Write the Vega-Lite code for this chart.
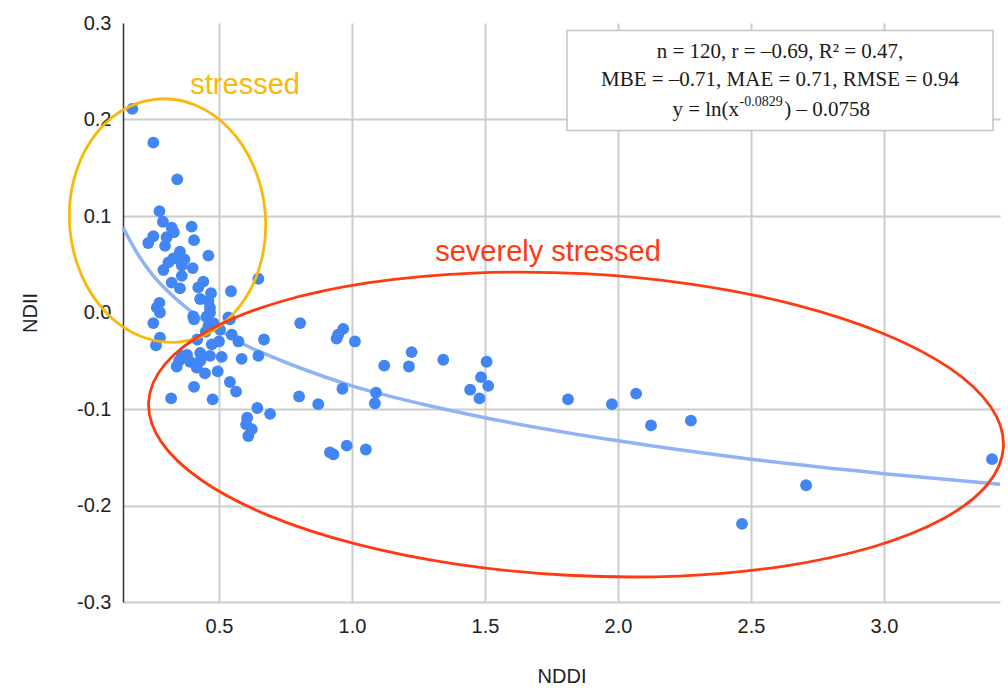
{
  "$schema": "https://vega.github.io/schema/vega-lite/v6.json",
  "width": 877,
  "height": 579,
  "autosize": "none",
  "padding": {"left": 123, "top": 23, "right": 8, "bottom": 93},
  "background": "white",
  "config": {"view": {"stroke": null}, "font": "Liberation Sans"},
  "datasets": {
    "points": [
      {"NDDI":0.174,"NDII":0.211},{"NDDI":0.253,"NDII":0.176},{"NDDI":0.343,"NDII":0.138},{"NDDI":0.276,"NDII":0.105},
      {"NDDI":0.289,"NDII":0.094},{"NDDI":0.322,"NDII":0.088},{"NDDI":0.397,"NDII":0.089},{"NDDI":0.253,"NDII":0.079},
      {"NDDI":0.234,"NDII":0.072},{"NDDI":0.303,"NDII":0.078},{"NDDI":0.297,"NDII":0.069},{"NDDI":0.406,"NDII":0.075},
      {"NDDI":0.353,"NDII":0.063},{"NDDI":0.328,"NDII":0.056},{"NDDI":0.460,"NDII":0.059},{"NDDI":0.360,"NDII":0.049},
      {"NDDI":0.291,"NDII":0.044},{"NDDI":0.401,"NDII":0.046},{"NDDI":0.360,"NDII":0.038},{"NDDI":0.322,"NDII":0.031},
      {"NDDI":0.353,"NDII":0.025},{"NDDI":0.441,"NDII":0.032},{"NDDI":0.422,"NDII":0.026},{"NDDI":0.648,"NDII":0.035},
      {"NDDI":0.545,"NDII":0.022},{"NDDI":0.276,"NDII":0.010},{"NDDI":0.266,"NDII":0.005},{"NDDI":0.429,"NDII":0.014},
      {"NDDI":0.460,"NDII":0.012},{"NDDI":0.466,"NDII":0.005},{"NDDI":0.278,"NDII":0.000},{"NDDI":0.403,"NDII":-0.004},
      {"NDDI":0.454,"NDII":-0.004},{"NDDI":0.535,"NDII":-0.005},{"NDDI":0.253,"NDII":-0.011},{"NDDI":0.406,"NDII":-0.007},
      {"NDDI":0.466,"NDII":0.000},{"NDDI":0.460,"NDII":-0.014},{"NDDI":0.479,"NDII":-0.011},{"NDDI":0.504,"NDII":-0.018},
      {"NDDI":0.541,"NDII":-0.007},{"NDDI":0.278,"NDII":-0.026},{"NDDI":0.263,"NDII":-0.034},{"NDDI":0.418,"NDII":-0.028},
      {"NDDI":0.473,"NDII":-0.033},{"NDDI":0.548,"NDII":-0.023},{"NDDI":0.573,"NDII":-0.030},{"NDDI":0.669,"NDII":-0.028},
      {"NDDI":0.360,"NDII":-0.045},{"NDDI":0.429,"NDII":-0.042},{"NDDI":0.466,"NDII":-0.045},{"NDDI":0.510,"NDII":-0.046},
      {"NDDI":0.585,"NDII":-0.048},{"NDDI":0.648,"NDII":-0.045},{"NDDI":0.391,"NDII":-0.051},{"NDDI":0.341,"NDII":-0.056},
      {"NDDI":0.416,"NDII":-0.057},{"NDDI":0.447,"NDII":-0.063},{"NDDI":0.495,"NDII":-0.061},{"NDDI":0.541,"NDII":-0.072},
      {"NDDI":0.564,"NDII":-0.082},{"NDDI":0.406,"NDII":-0.077},{"NDDI":0.320,"NDII":-0.089},{"NDDI":0.476,"NDII":-0.090},
      {"NDDI":0.644,"NDII":-0.099},{"NDDI":0.692,"NDII":-0.105},{"NDDI":0.606,"NDII":-0.109},{"NDDI":0.602,"NDII":-0.116},
      {"NDDI":0.623,"NDII":-0.121},{"NDDI":0.610,"NDII":-0.128},{"NDDI":0.805,"NDII":-0.011},{"NDDI":0.967,"NDII":-0.017},
      {"NDDI":0.948,"NDII":-0.023},{"NDDI":0.942,"NDII":-0.027},{"NDDI":1.011,"NDII":-0.030},{"NDDI":1.224,"NDII":-0.041},
      {"NDDI":1.121,"NDII":-0.055},{"NDDI":1.214,"NDII":-0.056},{"NDDI":0.964,"NDII":-0.079},{"NDDI":0.801,"NDII":-0.087},
      {"NDDI":0.873,"NDII":-0.095},{"NDDI":1.090,"NDII":-0.083},{"NDDI":1.086,"NDII":-0.094},{"NDDI":0.980,"NDII":-0.138},
      {"NDDI":0.917,"NDII":-0.145},{"NDDI":0.930,"NDII":-0.147},{"NDDI":1.052,"NDII":-0.142},{"NDDI":1.343,"NDII":-0.049},
      {"NDDI":1.506,"NDII":-0.051},{"NDDI":1.485,"NDII":-0.067},{"NDDI":1.444,"NDII":-0.080},{"NDDI":1.512,"NDII":-0.076},
      {"NDDI":1.479,"NDII":-0.089},{"NDDI":1.812,"NDII":-0.090},{"NDDI":1.977,"NDII":-0.095},{"NDDI":2.068,"NDII":-0.084},
      {"NDDI":2.124,"NDII":-0.117},{"NDDI":2.274,"NDII":-0.112},{"NDDI":2.466,"NDII":-0.219},{"NDDI":2.707,"NDII":-0.179},
      {"NDDI":3.406,"NDII":-0.152},
      {"NDDI":0.330,"NDII":0.083},{"NDDI":0.370,"NDII":0.055},{"NDDI":0.310,"NDII":0.052},{"NDDI":0.430,"NDII":-0.050},
      {"NDDI":0.380,"NDII":-0.044},{"NDDI":0.500,"NDII":-0.030},{"NDDI":0.450,"NDII":-0.020},{"NDDI":0.470,"NDII":0.020},
      {"NDDI":0.350,"NDII":-0.050}
    ],
    "fit": [
      {"NDDI":0.139,"NDII":0.088},{"NDDI":0.2,"NDII":0.058},{"NDDI":0.25,"NDII":0.039},{"NDDI":0.3,"NDII":0.024},
      {"NDDI":0.4,"NDII":0.000},{"NDDI":0.5,"NDII":-0.018},{"NDDI":0.6,"NDII":-0.034},{"NDDI":0.7,"NDII":-0.046},
      {"NDDI":0.8,"NDII":-0.057},{"NDDI":1.0,"NDII":-0.076},{"NDDI":1.25,"NDII":-0.094},{"NDDI":1.5,"NDII":-0.109},
      {"NDDI":2.0,"NDII":-0.133},{"NDDI":2.5,"NDII":-0.152},{"NDDI":3.0,"NDII":-0.167},{"NDDI":3.436,"NDII":-0.178}
    ],
    "stressed": [
      {"i":0,"NDDI":0.6733,"NDII":0.1042},{"i":1,"NDDI":0.6607,"NDII":0.0553},{"i":2,"NDDI":0.5941,"NDII":0.0126},
      {"i":3,"NDDI":0.4838,"NDII":-0.0176},{"i":4,"NDDI":0.3464,"NDII":-0.0306},{"i":5,"NDDI":0.2029,"NDII":-0.0244},
      {"i":6,"NDDI":0.0752,"NDII":0.0000},{"i":7,"NDDI":-0.0173,"NDII":0.0390},{"i":8,"NDDI":-0.0605,"NDII":0.0865},
      {"i":9,"NDDI":-0.0479,"NDII":0.1353},{"i":10,"NDDI":0.0187,"NDII":0.1781},{"i":11,"NDDI":0.129,"NDII":0.2083},
      {"i":12,"NDDI":0.2664,"NDII":0.2212},{"i":13,"NDDI":0.4098,"NDII":0.2150},{"i":14,"NDDI":0.5376,"NDII":0.1906},
      {"i":15,"NDDI":0.6301,"NDII":0.1517}
    ],
    "severe": [
      {"i":0,"NDDI":3.4489,"NDII":-0.1393},{"i":1,"NDDI":3.3865,"NDII":-0.1790},{"i":2,"NDDI":3.2188,"NDII":-0.2143},
      {"i":3,"NDDI":2.9571,"NDII":-0.2430},{"i":4,"NDDI":2.6199,"NDII":-0.2630},{"i":5,"NDDI":2.2293,"NDII":-0.2731},
      {"i":6,"NDDI":1.8124,"NDII":-0.2723},{"i":7,"NDDI":1.3977,"NDII":-0.2610},{"i":8,"NDDI":1.0132,"NDII":-0.2398},
      {"i":9,"NDDI":0.685,"NDII":-0.2102},{"i":10,"NDDI":0.4361,"NDII":-0.1741},{"i":11,"NDDI":0.2827,"NDII":-0.1341},
      {"i":12,"NDDI":0.2353,"NDII":-0.0928},{"i":13,"NDDI":0.2977,"NDII":-0.0532},{"i":14,"NDDI":0.4658,"NDII":-0.0178},
      {"i":15,"NDDI":0.7271,"NDII":0.0109},{"i":16,"NDDI":1.0643,"NDII":0.0309},{"i":17,"NDDI":1.4549,"NDII":0.0409},
      {"i":18,"NDDI":1.8718,"NDII":0.0402},{"i":19,"NDDI":2.2865,"NDII":0.0289},{"i":20,"NDDI":2.6711,"NDII":0.0077},
      {"i":21,"NDDI":2.9992,"NDII":-0.0220},{"i":22,"NDDI":3.2485,"NDII":-0.0580},{"i":23,"NDDI":3.4015,"NDII":-0.0980}
    ]
  },
  "layer": [
    {
      "data": {"name": "points"},
      "mark": {"type": "point", "opacity": 0},
      "encoding": {
        "x": {
          "field": "NDDI", "type": "quantitative",
          "scale": {"domain": [0.139, 3.436], "nice": false, "zero": false},
          "axis": {
            "title": "NDDI", "values": [0.5, 1, 1.5, 2, 2.5, 3], "format": ".1f",
            "grid": true, "gridColor": "#cccccc", "gridWidth": 2,
            "domain": false, "ticks": false,
            "labelFontSize": 20, "labelColor": "#222222", "labelPadding": 14,
            "titleFontSize": 20, "titleFontWeight": "normal", "titleColor": "#222222", "titlePadding": 30
          }
        },
        "y": {
          "field": "NDII", "type": "quantitative",
          "scale": {"domain": [-0.3, 0.3], "nice": false, "zero": false},
          "axis": {
            "title": "NDII", "values": [-0.3, -0.2, -0.1, 0, 0.1, 0.2, 0.3],
            "labelExpr": "datum.value < 0 ? '-' + format(-datum.value, '.1f') : format(datum.value, '.1f')",
            "grid": true, "gridColor": "#cccccc", "gridWidth": 2,
            "gridOpacity": {"condition": {"test": "datum.value > 0.29 || abs(datum.value) < 0.001", "value": 0}, "value": 1},
            "domain": true, "domainColor": "#333333", "domainWidth": 1.5, "ticks": false,
            "labelFontSize": 20, "labelColor": "#222222", "labelPadding": 12,
            "titleFontSize": 20, "titleFontWeight": "normal", "titleColor": "#222222", "titlePadding": 36
          }
        }
      }
    },
    {
      "mark": {"type": "rule", "color": "#333333", "strokeWidth": 1.5},
      "encoding": {"y": {"datum": 0}}
    },
    {
      "data": {"name": "fit"},
      "mark": {"type": "line", "color": "#8fb3f5", "strokeWidth": 3.5, "interpolate": "monotone"},
      "encoding": {
        "x": {"field": "NDDI", "type": "quantitative"},
        "y": {"field": "NDII", "type": "quantitative"}
      }
    },
    {
      "data": {"name": "points"},
      "mark": {"type": "circle", "color": "#4285F4", "opacity": 1, "size": 140},
      "encoding": {
        "x": {"field": "NDDI", "type": "quantitative"},
        "y": {"field": "NDII", "type": "quantitative"}
      }
    },
    {
      "data": {"name": "stressed"},
      "mark": {"type": "line", "color": "#F9B908", "strokeWidth": 2.8, "interpolate": "cardinal-closed", "clip": false},
      "encoding": {
        "x": {"field": "NDDI", "type": "quantitative"},
        "y": {"field": "NDII", "type": "quantitative"},
        "order": {"field": "i"}
      }
    },
    {
      "data": {"name": "severe"},
      "mark": {"type": "line", "color": "#FF3A12", "strokeWidth": 2.8, "interpolate": "cardinal-closed", "clip": false},
      "encoding": {
        "x": {"field": "NDDI", "type": "quantitative"},
        "y": {"field": "NDII", "type": "quantitative"},
        "order": {"field": "i"}
      }
    },
    {
      "data": {"values": [{"NDDI": 0.598, "NDII": 0.236, "label": "stressed"}]},
      "mark": {"type": "text", "font": "Liberation Sans", "fontSize": 29, "color": "#F9B908", "align": "center", "baseline": "middle"},
      "encoding": {
        "x": {"field": "NDDI", "type": "quantitative"},
        "y": {"field": "NDII", "type": "quantitative"},
        "text": {"field": "label"}
      }
    },
    {
      "data": {"values": [{"NDDI": 1.737, "NDII": 0.063, "label": "severely stressed"}]},
      "mark": {"type": "text", "font": "Liberation Sans", "fontSize": 29, "color": "#FF3A12", "align": "center", "baseline": "middle"},
      "encoding": {
        "x": {"field": "NDDI", "type": "quantitative"},
        "y": {"field": "NDII", "type": "quantitative"},
        "text": {"field": "label"}
      }
    },
    {
      "data": {"values": [{"x1": 1.808, "x2": 3.41, "y1": 0.2922, "y2": 0.1886}]},
      "mark": {"type": "rect", "fill": "white", "stroke": "#c4c4c4", "strokeWidth": 1.5},
      "encoding": {
        "x": {"field": "x1", "type": "quantitative"},
        "x2": {"field": "x2"},
        "y": {"field": "y1", "type": "quantitative"},
        "y2": {"field": "y2"}
      }
    },
    {
      "data": {"values": [
        {"NDDI": 2.609, "NDII": 0.2700, "label": "n = 120, r = –0.69, R² = 0.47,"},
        {"NDDI": 2.609, "NDII": 0.2410, "label": "MBE = –0.71, MAE = 0.71, RMSE = 0.94"}
      ]},
      "mark": {"type": "text", "font": "Liberation Serif", "fontSize": 21, "color": "#1a1a1a", "align": "center", "baseline": "middle"},
      "encoding": {
        "x": {"field": "NDDI", "type": "quantitative"},
        "y": {"field": "NDII", "type": "quantitative"},
        "text": {"field": "label"}
      }
    },
    {
      "data": {"values": [{"NDDI": 2.455, "NDII": 0.2100, "label": "y = ln(x"}]},
      "mark": {"type": "text", "font": "Liberation Serif", "fontSize": 21, "color": "#1a1a1a", "align": "right", "baseline": "middle"},
      "encoding": {
        "x": {"field": "NDDI", "type": "quantitative"},
        "y": {"field": "NDII", "type": "quantitative"},
        "text": {"field": "label"}
      }
    },
    {
      "data": {"values": [{"NDDI": 2.457, "NDII": 0.2180, "label": "-0.0829"}]},
      "mark": {"type": "text", "font": "Liberation Serif", "fontSize": 14, "color": "#1a1a1a", "align": "left", "baseline": "middle"},
      "encoding": {
        "x": {"field": "NDDI", "type": "quantitative"},
        "y": {"field": "NDII", "type": "quantitative"},
        "text": {"field": "label"}
      }
    },
    {
      "data": {"values": [{"NDDI": 2.625, "NDII": 0.2100, "label": ") – 0.0758"}]},
      "mark": {"type": "text", "font": "Liberation Serif", "fontSize": 21, "color": "#1a1a1a", "align": "left", "baseline": "middle"},
      "encoding": {
        "x": {"field": "NDDI", "type": "quantitative"},
        "y": {"field": "NDII", "type": "quantitative"},
        "text": {"field": "label"}
      }
    }
  ]
}
